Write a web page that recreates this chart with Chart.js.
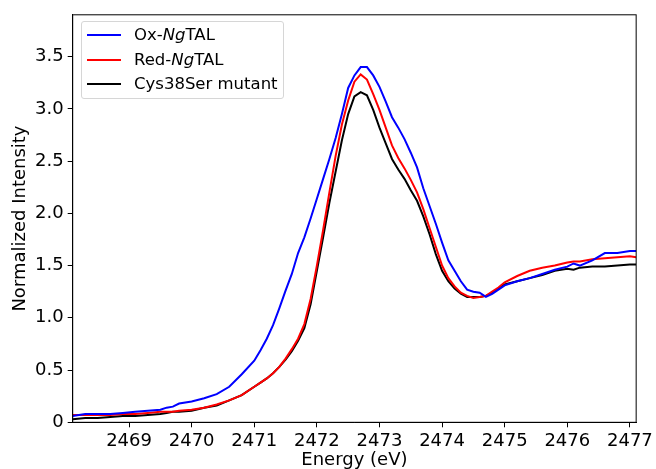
<!DOCTYPE html>
<html>
<head>
<meta charset="utf-8">
<script src="https://cdn.jsdelivr.net/npm/chart.js@4.4.1/dist/chart.umd.min.js"></script>
<style>
  body { margin: 0; background: #fff; }
  #wrap { position: relative; width: 656px; height: 469px; }
  #legend {
    position: absolute; left: 81px; top: 21px; width: 203px; height: 78px;
    box-sizing: border-box; border: 1px solid #d6d6d6; border-radius: 3px;
    background: rgba(255,255,255,0.85);
    font-family: "DejaVu Sans", sans-serif; font-size: 16.5px; color: #000;
  }
  #legend .item { position: absolute; left: 5px; height: 24px; line-height: 24px; white-space: nowrap; }
  #legend .swatch { position: absolute; left: 0; top: 11px; width: 34px; height: 2px; }
  #legend .label { position: absolute; left: 47px; top: 0; }
</style>
</head>
<body>
<div id="wrap">
  <canvas id="chart" width="656" height="469"></canvas>
  <div id="legend"></div>
</div>
<script>
// energy grid (eV)
const energy = [
  2468.1, 2468.3, 2468.5, 2468.7, 2468.9, 2469.1, 2469.3, 2469.5, 2469.6, 2469.7,
  2469.8, 2470.0, 2470.2, 2470.4, 2470.6, 2470.8, 2471.0, 2471.1, 2471.2, 2471.3,
  2471.4, 2471.5, 2471.6, 2471.7, 2471.8, 2471.9, 2472.0, 2472.1, 2472.2, 2472.3,
  2472.4, 2472.5, 2472.6, 2472.7, 2472.8, 2472.9, 2473.0, 2473.1, 2473.2, 2473.3,
  2473.4, 2473.5, 2473.6, 2473.7, 2473.8, 2473.9, 2474.0, 2474.1, 2474.2, 2474.3,
  2474.4, 2474.5, 2474.6, 2474.7, 2474.8, 2474.9, 2475.0, 2475.2, 2475.4, 2475.6,
  2475.8, 2476.0, 2476.1, 2476.2, 2476.4, 2476.6, 2476.8, 2477.0, 2477.1
];

const oxNgTAL = [
  0.06, 0.08, 0.08, 0.08, 0.09, 0.10, 0.11, 0.12, 0.14, 0.15,
  0.18, 0.20, 0.23, 0.27, 0.34, 0.46, 0.59, 0.69, 0.80, 0.93,
  1.09, 1.26, 1.42, 1.62, 1.77, 1.95, 2.14, 2.33, 2.52, 2.72,
  2.95, 3.20, 3.32, 3.40, 3.40, 3.32, 3.21, 3.07, 2.92, 2.82,
  2.71, 2.58, 2.44, 2.24, 2.07, 1.90, 1.72, 1.55, 1.45, 1.35,
  1.27, 1.25, 1.24, 1.20, 1.23, 1.27, 1.31, 1.35, 1.38, 1.42,
  1.46, 1.49, 1.52, 1.50, 1.55, 1.62, 1.62, 1.64, 1.64
];

const redNgTAL = [
  0.07, 0.07, 0.07, 0.07, 0.08, 0.08, 0.09, 0.10, 0.10, 0.10,
  0.11, 0.12, 0.14, 0.17, 0.21, 0.26, 0.34, 0.38, 0.42, 0.47,
  0.53, 0.61, 0.70, 0.80, 0.94, 1.18, 1.50, 1.84, 2.20, 2.55,
  2.85, 3.08, 3.26, 3.33, 3.28, 3.14, 2.99, 2.82, 2.65, 2.53,
  2.43, 2.32, 2.20, 2.04, 1.86, 1.68, 1.50, 1.38, 1.30, 1.24,
  1.21, 1.19, 1.20, 1.21, 1.25, 1.29, 1.34, 1.40, 1.45, 1.48,
  1.50, 1.53, 1.54, 1.54, 1.56, 1.57, 1.58, 1.59, 1.58
];

const cys38Ser = [
  0.03, 0.04, 0.04, 0.05, 0.06, 0.06, 0.07, 0.08, 0.09, 0.10,
  0.10, 0.11, 0.14, 0.16, 0.21, 0.26, 0.34, 0.38, 0.42, 0.47,
  0.53, 0.60, 0.68, 0.78, 0.90, 1.13, 1.45, 1.77, 2.10, 2.40,
  2.70, 2.95, 3.12, 3.16, 3.13, 2.99, 2.82, 2.67, 2.52, 2.42,
  2.33, 2.22, 2.12, 1.97, 1.80, 1.61, 1.45, 1.35, 1.28, 1.23,
  1.20, 1.20, 1.20, 1.21, 1.24, 1.28, 1.32, 1.35, 1.38, 1.41,
  1.45, 1.47, 1.46, 1.48, 1.49, 1.49, 1.50, 1.51, 1.51
];

const xTicks = [2469, 2470, 2471, 2472, 2473, 2474, 2475, 2476, 2477];
const yTicks = [0, 0.5, 1.0, 1.5, 2.0, 2.5, 3.0, 3.5];

function toPoints(ys) {
  return ys.map((y, i) => ({ x: energy[i], y: y }));
}

// full box around the plot, like matplotlib spines
const frame = {
  id: 'frame',
  afterDraw(chart) {
    const { ctx, chartArea: a } = chart;
    ctx.save();
    ctx.strokeStyle = '#000';
    ctx.lineWidth = 1;
    ctx.strokeRect(a.left, a.top, a.right - a.left, a.bottom - a.top);
    ctx.restore();
  }
};

// legend in html so "Ng" can be italic
const htmlLegend = {
  id: 'htmlLegend',
  afterUpdate(chart) {
    const box = document.getElementById('legend');
    box.innerHTML = '';
    chart.data.datasets.forEach((ds, i) => {
      const item = document.createElement('div');
      item.className = 'item';
      item.style.top = (1 + i * 24.5) + 'px';
      const sw = document.createElement('span');
      sw.className = 'swatch';
      sw.style.background = ds.borderColor;
      const lb = document.createElement('span');
      lb.className = 'label';
      lb.innerHTML = ds.label.replace('Ng', '<i>Ng</i>');
      item.appendChild(sw);
      item.appendChild(lb);
      box.appendChild(item);
    });
  }
};

const font = { family: '"DejaVu Sans", sans-serif', size: 18 };

new Chart(document.getElementById('chart'), {
  type: 'line',
  data: {
    datasets: [
      { label: 'Ox-NgTAL', data: toPoints(oxNgTAL), borderColor: '#0000ff' },
      { label: 'Red-NgTAL', data: toPoints(redNgTAL), borderColor: '#ff0000' },
      { label: 'Cys38Ser mutant', data: toPoints(cys38Ser), borderColor: '#000000' }
    ]
  },
  options: {
    responsive: false,
    animation: false,
    layout: { padding: { left: 0, right: 18, top: 14, bottom: 0 } },
    elements: {
      line: { borderWidth: 2, tension: 0, fill: false },
      point: { radius: 0 }
    },
    plugins: {
      legend: { display: false },
      tooltip: { enabled: false }
    },
    scales: {
      x: {
        type: 'linear',
        min: 2468.1,
        max: 2477.1,
        afterBuildTicks: s => { s.ticks = xTicks.map(v => ({ value: v })); },
        afterFit: s => { s.height = 46.7; },
        ticks: { color: '#000', font: font, padding: 3, maxRotation: 0, callback: v => String(v) },
        grid: { drawOnChartArea: false, drawTicks: true, tickLength: 5, color: '#000' },
        border: { display: true, color: '#000' },
        title: { display: true, text: 'Energy (eV)', color: '#000',
                 font: { family: font.family, size: 18, lineHeight: 1 }, padding: { top: 0, bottom: 0 } }
      },
      y: {
        min: 0,
        max: 3.9,
        afterBuildTicks: s => { s.ticks = yTicks.map(v => ({ value: v })); },
        afterFit: s => { s.width = 72.7; },
        ticks: { color: '#000', font: font, padding: 4, callback: v => v === 0 ? '0' : v.toFixed(1) },
        grid: { drawOnChartArea: false, drawTicks: true, tickLength: 5, color: '#000' },
        border: { display: true, color: '#000' },
        title: { display: true, text: 'Normalized Intensity', color: '#000',
                 font: { family: font.family, size: 18, lineHeight: 1 }, padding: { top: 11, bottom: 0 } }
      }
    }
  },
  plugins: [frame, htmlLegend]
});
</script>
</body>
</html>
